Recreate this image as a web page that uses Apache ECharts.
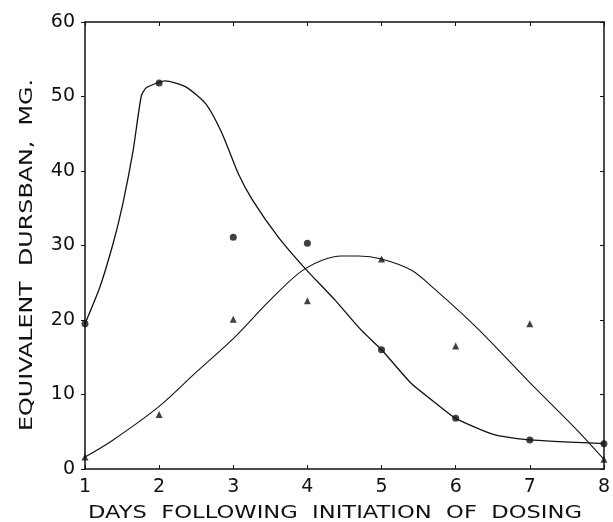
<!DOCTYPE html>
<html>
<head>
<meta charset="utf-8">
<script src="https://cdn.jsdelivr.net/npm/echarts@6/dist/echarts.min.js"></script>
<style>html,body{margin:0;padding:0;background:#fff;}#c{width:613px;height:522px;}</style>
</head>
<body>
<div id="c"></div>
<script>
// Measured points
const days = [1, 2, 3, 4, 5, 6, 7, 8];
const circleValues = [19.5, 51.8, 31.1, 30.3, 16.0, 6.8, 3.9, 3.4];
const triangleValues = [1.6, 7.3, 20.1, 22.6, 28.2, 16.5, 19.5, 1.3];

// Hand-drawn fitted curves
const circleCurveX = [1, 1.2, 1.38, 1.51, 1.65, 1.76, 1.83, 2, 2.08, 2.36, 2.63, 2.85, 3.07, 3.26, 3.61, 3.98, 4.37, 4.73, 5, 5.4, 5.76, 6, 6.52, 7, 8];
const circleCurveY = [19.5, 24.4, 30.3, 35.6, 42.8, 50.1, 51.2, 51.9, 52.1, 51.3, 49.0, 45.0, 39.6, 36.1, 31.1, 26.8, 22.7, 18.6, 16.0, 11.5, 8.6, 6.8, 4.6, 3.9, 3.4];
const triCurveX = [1, 1.38, 2, 2.5, 3, 3.5, 3.97, 4.46, 4.69, 5, 5.4, 5.71, 6.29, 6.97, 7.64, 8];
const triCurveY = [1.6, 3.9, 8.4, 13.0, 17.5, 22.7, 26.9, 28.6, 28.6, 28.2, 26.7, 24.2, 18.9, 11.9, 5.2, 1.3];

const xTitle = 'DAYS  FOLLOWING  INITIATION  OF  DOSING';
const yTitle = 'EQUIVALENT  DURSBAN,  MG.';

const zip = (a, b) => a.map((v, i) => [v, b[i]]);
const font = 'DejaVu Sans';
const ink = '#111';

const chart = echarts.init(document.getElementById('c'));
chart.setOption({
  animation: false,
  backgroundColor: '#fff',
  grid: { left: 85, right: 6, top: 22, bottom: 53 },
  graphic: [{
    type: 'text', x: 335, y: 514, scaleX: 1.33,
    style: { text: xTitle, font: '17px "DejaVu Sans"', fill: ink, align: 'center', verticalAlign: 'middle' }
  }, {
    type: 'text', x: 28, y: 255, rotation: Math.PI / 2, scaleX: 1.4,
    style: { text: yTitle, font: '17px "DejaVu Sans"', fill: ink, align: 'center', verticalAlign: 'middle' }
  }],
  xAxis: [{
    type: 'value', min: 1, max: 8, interval: 1,
    axisLine: { show: true, onZero: false, lineStyle: { color: ink, width: 1.5 } },
    axisTick: { show: true, inside: true, length: 4, lineStyle: { color: ink } },
    axisLabel: { fontFamily: font, fontSize: 19, color: ink, margin: 9 },
    splitLine: { show: false }
  }, {
    type: 'value', min: 1, max: 8, interval: 1, position: 'top',
    axisLine: { show: true, onZero: false, lineStyle: { color: ink, width: 1.5 } },
    axisTick: { show: true, inside: true, length: 4, lineStyle: { color: ink } },
    axisLabel: { show: false }, splitLine: { show: false }
  }],
  yAxis: [{
    type: 'value', min: 0, max: 60, interval: 10,
    axisLine: { show: true, onZero: false, lineStyle: { color: ink, width: 1.5 } },
    axisTick: { show: true, inside: false, length: 4, lineStyle: { color: ink } },
    axisLabel: { fontFamily: font, fontSize: 19, color: ink, margin: 10 },
    splitLine: { show: false }
  }, {
    type: 'value', min: 0, max: 60, interval: 10, position: 'right',
    axisLine: { show: true, onZero: false, lineStyle: { color: ink, width: 1.5 } },
    axisTick: { show: true, inside: true, length: 4, lineStyle: { color: ink } },
    axisLabel: { show: false }, splitLine: { show: false }
  }],
  series: [{
    type: 'line', data: zip(circleCurveX, circleCurveY), smooth: 0.2,
    showSymbol: false, lineStyle: { color: ink, width: 1.3 }, z: 2
  }, {
    type: 'line', data: zip(triCurveX, triCurveY), smooth: 0.3,
    showSymbol: false, lineStyle: { color: ink, width: 1.1 }, z: 2
  }, {
    type: 'scatter', data: zip(days, circleValues), symbol: 'circle', symbolSize: 7,
    itemStyle: { color: ink }, z: 3
  }, {
    type: 'scatter', data: zip(days, triangleValues), symbol: 'triangle', symbolSize: 7,
    itemStyle: { color: ink }, z: 3
  }]
});
</script>
</body>
</html>
